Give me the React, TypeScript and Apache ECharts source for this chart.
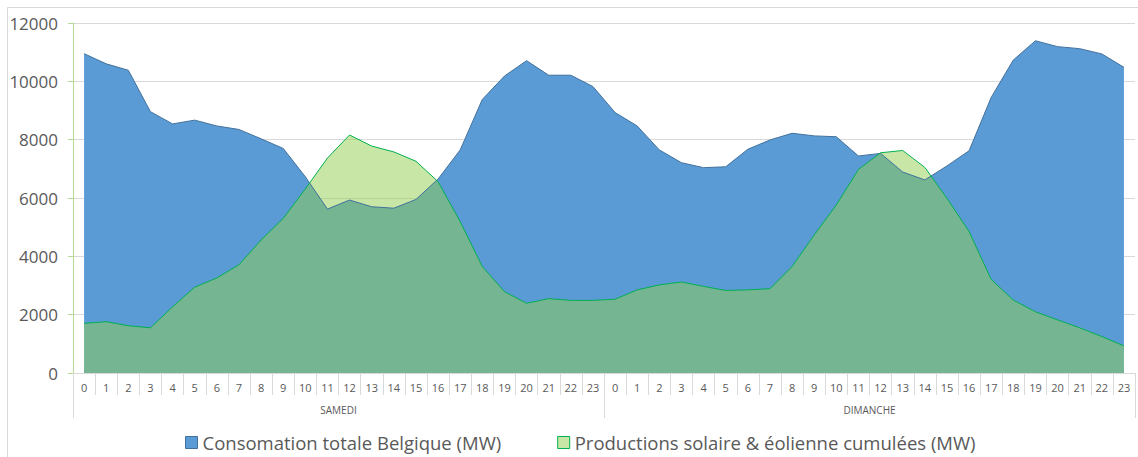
import React, { useEffect, useRef } from "react";
import * as echarts from "echarts";

const hours = Array.from({ length: 24 }, (_, i) => String(i));
const hourLabels = [...hours, ...hours];
const days = ["SAMEDI", "DIMANCHE"];

const consoSamedi = [10950, 10600, 10380, 8960, 8540, 8670, 8470, 8350, 8030, 7700, 6730, 5620, 5930, 5700, 5650, 5950, 6650, 7650, 9380, 10180, 10710, 10210, 10210, 9820];
const consoDimanche = [8930, 8470, 7650, 7210, 7040, 7070, 7670, 7990, 8220, 8130, 8100, 7440, 7530, 6890, 6620, 7100, 7620, 9450, 10730, 11390, 11190, 11120, 10940, 10480];
const prodSamedi = [1700, 1760, 1620, 1550, 2270, 2940, 3260, 3710, 4560, 5300, 6310, 7370, 8160, 7780, 7580, 7260, 6560, 5190, 3650, 2790, 2390, 2550, 2490, 2490];
const prodDimanche = [2530, 2850, 3020, 3120, 2970, 2830, 2850, 2890, 3650, 4730, 5760, 6980, 7550, 7630, 7050, 5990, 4850, 3210, 2500, 2100, 1820, 1550, 1250, 930];

const seriesNames = ["Consomation totale Belgique (MW)", "Productions solaire & éolienne cumulées (MW)"];

export default function App() {
  const ref = useRef<HTMLDivElement>(null);
  useEffect(() => {
    if (!ref.current) return;
    const chart = echarts.init(ref.current, null, { renderer: "svg" });
    const font = "'Open Sans', 'Noto Sans', sans-serif";
    chart.setOption({
      animation: false,
      textStyle: { fontFamily: font },
      graphic: [
        {
          type: "rect",
          shape: { x: 7.5, y: 7.5, width: 1150, height: 470 },
          style: { fill: "none", stroke: "#D9D9D9", lineWidth: 1 },
          silent: true,
        },
      ],
      grid: { left: 73, right: 3, top: 23, bottom: 84 },
      legend: {
        left: 180,
        top: 428,
        itemWidth: 12,
        itemHeight: 12,
        itemGap: 56,
        icon: "rect",
        textStyle: { fontSize: 18.5, color: "#595959", fontFamily: font },
        data: [
          { name: seriesNames[0], itemStyle: { color: "#5B9BD5", borderColor: "#41719C", borderWidth: 1 } },
          { name: seriesNames[1], itemStyle: { color: "#C8E7A7", borderColor: "#00B050", borderWidth: 1 } },
        ],
      },
      xAxis: [
        {
          type: "category",
          data: hourLabels,
          boundaryGap: true,
          axisLine: { show: true, lineStyle: { color: "#D9D9D9" } },
          axisTick: { show: true, length: 22, interval: 0, lineStyle: { color: "#D9D9D9" } },
          axisLabel: { interval: 0, fontSize: 11, color: "#595959", margin: 9 },
        },
        {
          type: "category",
          data: days,
          position: "bottom",
          offset: 22,
          boundaryGap: true,
          axisLine: { show: false },
          axisTick: { show: true, length: 23, interval: 0, lineStyle: { color: "#D9D9D9" } },
          axisLabel: { interval: 0, fontSize: 10, color: "#595959", margin: 10 },
        },
      ],
      yAxis: {
        type: "value",
        min: 0,
        max: 12000,
        interval: 2000,
        axisLine: { show: true, lineStyle: { color: "#B4DA96" } },
        axisTick: { show: true, length: 5, lineStyle: { color: "#B4DA96" } },
        axisLabel: { fontSize: 17, color: "#595959", margin: 15, formatter: (v: number) => String(v) },
        splitLine: { lineStyle: { color: "#D9D9D9" } },
      },
      series: [
        {
          name: seriesNames[0],
          type: "line",
          xAxisIndex: 0,
          data: [...consoSamedi, ...consoDimanche],
          showSymbol: false,
          symbol: "none",
          itemStyle: { color: "#5B9BD5" },
          lineStyle: { color: "#41719C", width: 1 },
          areaStyle: { color: "#5B9BD5", opacity: 1 },
        },
        {
          name: seriesNames[1],
          type: "line",
          xAxisIndex: 0,
          data: [...prodSamedi, ...prodDimanche],
          showSymbol: false,
          symbol: "none",
          itemStyle: { color: "#C8E7A7" },
          lineStyle: { color: "#00B050", width: 1 },
          areaStyle: { color: "rgba(146,208,80,0.5)", opacity: 1 },
        },
      ],
    });
    return () => chart.dispose();
  }, []);
  return (
    <div
      ref={ref}
      style={{ position: "fixed", left: 0, top: 0, width: 1138, height: 457, background: "#fff" }}
    />
  );
}
